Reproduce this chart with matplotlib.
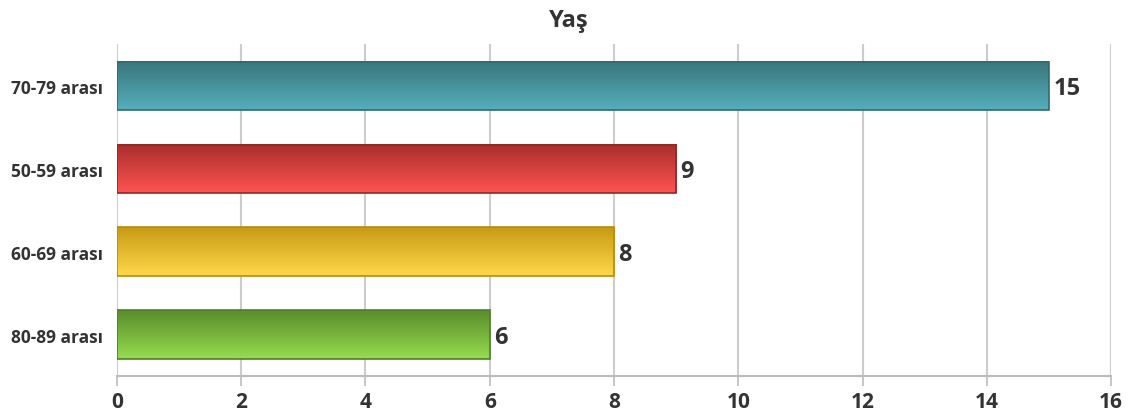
import matplotlib.pyplot as plt
import numpy as np
from matplotlib.colors import LinearSegmentedColormap

plt.rcParams['font.family'] = ['Open Sans', 'DejaVu Sans']

categories = ['70-79 arası', '50-59 arası', '60-69 arası', '80-89 arası']
values = [15, 9, 8, 6]
# gradient colours (top, bottom) and edge colour per bar
top_colors = ['#3a767c', '#a82e2c', '#c89a14', '#5a8c2c']
bottom_colors = ['#55aebb', '#ff5450', '#ffd84a', '#96dc50']
edge_colors = ['#2f6b70', '#8e2a28', '#b88a10', '#4f8026']
xticks = [0, 2, 4, 6, 8, 10, 12, 14, 16]

fig = plt.figure(figsize=(11.38, 4.14), dpi=100)
ax = fig.add_axes([0.1028, 0.0894, 0.8735, 0.8016])

bar_h = 0.58
ypos = np.arange(len(categories))
grad = np.linspace(0, 1, 256).reshape(-1, 1)
for i, (cat, v) in enumerate(zip(categories, values)):
    y = ypos[i]
    cmap = LinearSegmentedColormap.from_list('g%d' % i, [top_colors[i], bottom_colors[i]])
    ax.imshow(grad, cmap=cmap, aspect='auto', zorder=3,
              extent=[0, v, y + bar_h / 2, y - bar_h / 2], interpolation='bicubic')
    ax.barh(y, v, height=bar_h, facecolor='none', edgecolor=edge_colors[i],
            linewidth=1.2, zorder=4)
    ax.text(v + 0.07, y + 0.03, str(v), va='center', ha='left', fontsize=17,
            fontweight='bold', color='#333333', zorder=5)

ax.set_xlim(0, 16)
ax.set_ylim(len(categories) - 0.5, -0.5)
ax.set_xticks(xticks)
ax.set_xticklabels([str(t) for t in xticks], fontsize=15, fontweight='bold', color='#333333')
ax.set_yticks(ypos)
ax.set_yticklabels(categories, fontsize=12.5, fontweight='bold', color='#333333')
ax.tick_params(axis='y', length=0, pad=10)
ax.tick_params(axis='x', length=7, width=1.2, color='#bbbbbb', pad=4)

ax.grid(axis='x', color='#cccccc', linewidth=1.5, zorder=0)
ax.set_axisbelow(True)
for s in ['top', 'right', 'left']:
    ax.spines[s].set_visible(False)
ax.spines['bottom'].set_color('#bbbbbb')
ax.spines['bottom'].set_linewidth(1.5)

fig.text(0.5, 0.95, 'Yaş', ha='center', va='center', fontsize=17,
         fontweight='bold', color='#333333')

fig.savefig('out.png', dpi=100)
